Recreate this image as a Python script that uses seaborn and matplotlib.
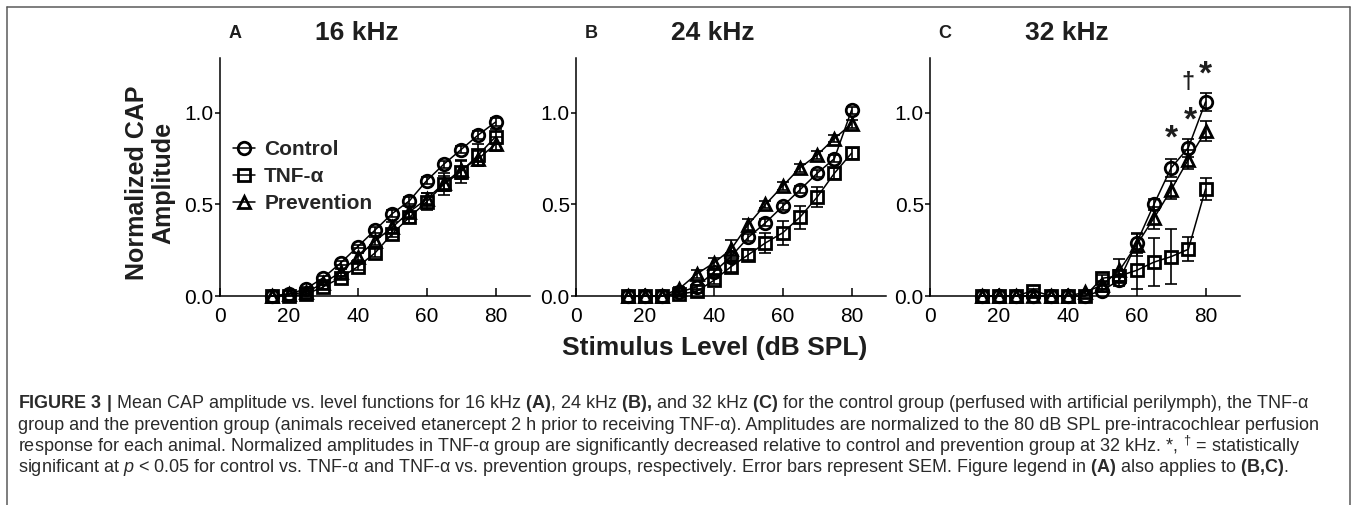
import numpy as np
import pandas as pd
import matplotlib
matplotlib.use("Agg")
import matplotlib.pyplot as plt
from matplotlib import font_manager as fm
from matplotlib.lines import Line2D
import seaborn as sns

sns.set_theme(style="white")
plt.rcParams["font.family"] = ["Liberation Sans", "DejaVu Sans"]

# -----------------------------
# Data
# -----------------------------
levels = [15, 20, 25, 30, 35, 40, 45, 50, 55, 60, 65, 70, 75, 80]
groups = ["Control", "TNF-α", "Prevention"]
freqs = ["16 kHz", "24 kHz", "32 kHz"]
letters = ["A", "B", "C"]

ctrl_16 = [0, 0.01, 0.04, 0.10, 0.18, 0.27, 0.36, 0.45, 0.52, 0.63, 0.72, 0.80, 0.88, 0.95]
tnf_16 = [0, 0.0, 0.01, 0.05, 0.10, 0.16, 0.235, 0.34, 0.43, 0.515, 0.61, 0.68, 0.77, 0.87]
prev_16 = [0, 0.01, 0.02, 0.07, 0.13, 0.215, 0.30, 0.375, 0.46, 0.53, 0.615, 0.69, 0.75, 0.83]
ctrl_16_sem = [0, 0, 0.01, 0.01, 0.01, 0.01, 0.015, 0.02, 0.02, 0.02, 0.02, 0.02, 0.02, 0.02]
tnf_16_sem = [0, 0, 0.01, 0.01, 0.01, 0.02, 0.02, 0.02, 0.03, 0.045, 0.06, 0.065, 0.06, 0.04]
prev_16_sem = [0, 0, 0.01, 0.01, 0.02, 0.02, 0.02, 0.03, 0.03, 0.03, 0.04, 0.05, 0.04, 0.04]

ctrl_24 = [0, 0, 0, 0.02, 0.05, 0.13, 0.215, 0.32, 0.40, 0.49, 0.58, 0.67, 0.75, 1.015]
tnf_24 = [0, 0, 0, 0.01, 0.025, 0.085, 0.16, 0.225, 0.29, 0.345, 0.43, 0.54, 0.67, 0.78]
prev_24 = [0, 0, 0, 0.04, 0.12, 0.18, 0.255, 0.39, 0.50, 0.60, 0.70, 0.77, 0.86, 0.94]
ctrl_24_sem = [0, 0, 0, 0.01, 0.01, 0.02, 0.02, 0.02, 0.02, 0.02, 0.02, 0.02, 0.02, 0.02]
tnf_24_sem = [0, 0, 0, 0.01, 0.01, 0.02, 0.03, 0.03, 0.055, 0.065, 0.062, 0.053, 0.03, 0.03]
prev_24_sem = [0, 0, 0, 0.01, 0.02, 0.03, 0.05, 0.03, 0.02, 0.02, 0.02, 0.02, 0.02, 0.02]

ctrl_32 = [0, 0, 0, 0, 0, 0, 0, 0.03, 0.087, 0.29, 0.50, 0.70, 0.81, 1.06]
tnf_32 = [0, 0, 0, 0.03, 0, 0, 0, 0.097, 0.11, 0.14, 0.185, 0.215, 0.255, 0.585]
prev_32 = [0, 0, 0, 0, 0, 0, 0.02, 0.06, 0.14, 0.28, 0.425, 0.58, 0.745, 0.90]
ctrl_32_sem = [0, 0, 0, 0, 0, 0, 0, 0.01, 0.03, 0.056, 0.03, 0.05, 0.05, 0.05]
tnf_32_sem = [0, 0, 0, 0.01, 0, 0, 0, 0.02, 0.03, 0.10, 0.13, 0.15, 0.065, 0.06]
prev_32_sem = [0, 0, 0, 0, 0, 0, 0.01, 0.02, 0.06, 0.06, 0.06, 0.05, 0.05, 0.055]

# significance marks in panel C: (level, height, symbol)
sig_levels = [70, 75.5, 75, 80]
sig_heights = [0.90, 1.0, 1.17, 1.25]
sig_symbols = ["*", "*", "†", "*"]

panels = [
    (ctrl_16, tnf_16, prev_16, ctrl_16_sem, tnf_16_sem, prev_16_sem),
    (ctrl_24, tnf_24, prev_24, ctrl_24_sem, tnf_24_sem, prev_24_sem),
    (ctrl_32, tnf_32, prev_32, ctrl_32_sem, tnf_32_sem, prev_32_sem),
]
markers = {"Control": "o", "TNF-α": "s", "Prevention": "^"}

# -----------------------------
# Layout (pixels)
# -----------------------------
W, H = 1357, 505
fig = plt.figure(figsize=(W / 100, H / 100), dpi=100)
ax_left = [220, 576, 930]
ax_w, ax_top, ax_bot = 310, 58, 296
ink = "#1e1e1e"

axes = []
for i, (lft, vals) in enumerate(zip(ax_left, panels)):
    ax = fig.add_axes([lft / W, (H - ax_bot) / H, ax_w / W, (ax_bot - ax_top) / H])
    axes.append(ax)
    c, t, p, ce, te, pe = vals
    df = pd.DataFrame({
        "level": levels * 3,
        "amp": c + t + p,
        "sem": ce + te + pe,
        "group": np.repeat(groups, len(levels)),
    })
    sns.lineplot(data=df, x="level", y="amp", hue="group", style="group",
                 markers=markers, dashes=False,
                 palette={g: "black" for g in groups}, hue_order=groups, style_order=groups,
                 markersize=9, markeredgewidth=2, markerfacecolor="none",
                 markeredgecolor="black", linewidth=1.1, legend=False,
                 clip_on=False, zorder=3, ax=ax)
    eb = df[df["sem"] > 0]
    ax.errorbar(eb["level"], eb["amp"], yerr=eb["sem"], fmt="none", ecolor="black",
                elinewidth=1.2, capsize=4, capthick=1.2, clip_on=False, zorder=2)

    ax.set_xlim(0, 90)
    ax.set_ylim(0, 1.3)
    ax.set_xticks([0, 20, 40, 60, 80])
    ax.set_yticks([0, 0.5, 1.0])
    ax.set_yticklabels(["0.0", "0.5", "1.0"])
    ax.set_xlabel("")
    ax.set_ylabel("")
    for s in ["top", "right"]:
        ax.spines[s].set_visible(False)
    for s in ["left", "bottom"]:
        ax.spines[s].set_color("black")
        ax.spines[s].set_linewidth(1.1)
    ax.tick_params(axis="x", direction="in", length=6, width=1.1, pad=8,
                   labelsize=15, colors="black", bottom=True)
    ax.tick_params(axis="y", direction="out", length=3.5, width=1.1, pad=1,
                   labelsize=15, colors="black", left=True)

    fig.text((lft + 137) / W, 1 - 33 / H, freqs[i], ha="center", va="center",
             fontsize=19, fontweight="bold", color=ink)
    fig.text((lft + 15) / W, 1 - 33 / H, letters[i], ha="center", va="center",
             fontsize=13, fontweight="bold", color=ink)

# significance symbols in panel C
for xv, yv, sym in zip(sig_levels, sig_heights, sig_symbols):
    size = 24 if sym == "*" else 17
    off = 0.09 if sym == "*" else 0.04
    axes[2].text(xv, yv - off, sym, ha="center", va="baseline", fontsize=size,
                 fontweight="bold", color=ink, clip_on=False)

# legend in panel A
handles = [Line2D([], [], color="black", marker=markers[g], mfc="none", mec="black",
                  ms=9, mew=2, lw=1.1) for g in groups]
axes[0].legend(handles, groups, loc="upper left", bbox_to_anchor=(233 / W, 1 - 140 / H),
               bbox_transform=fig.transFigure, frameon=False, borderpad=0,
               borderaxespad=0, labelspacing=0.38, handlelength=1.05,
               handletextpad=0.45, prop={"size": 15, "weight": "bold"})

# shared axis labels
fig.text(150 / W, 1 - 183 / H, "Normalized CAP\nAmplitude", rotation=90, ha="center",
         va="center", fontsize=18, fontweight="bold", color=ink, linespacing=1.1)
fig.text(715 / W, 1 - 348 / H, "Stimulus Level (dB SPL)", ha="center", va="center",
         fontsize=19, fontweight="bold", color=ink)

# -----------------------------
# Caption
# -----------------------------
names = {f.name for f in fm.fontManager.ttflist}
cap_font = "Liberation Sans Narrow" if "Liberation Sans Narrow" in names else "Liberation Sans"
plt.rcParams["mathtext.fontset"] = "custom"
plt.rcParams["mathtext.rm"] = cap_font
plt.rcParams["mathtext.bf"] = cap_font + ":bold"
plt.rcParams["mathtext.it"] = cap_font + ":italic"

caption = [
    r"$\mathbf{FIGURE\ 3\ |}$ Mean CAP amplitude vs. level functions for 16 kHz $\mathbf{(A)}$, "
    r"24 kHz $\mathbf{(B){,}}$ and 32 kHz $\mathbf{(C)}$ for the control group (perfused with "
    r"artificial perilymph), the TNF-α",
    "group and the prevention group (animals received etanercept 2 h prior to receiving "
    "TNF-α). Amplitudes are normalized to the 80 dB SPL pre-intracochlear perfusion",
    r"response for each animal. Normalized amplitudes in TNF-α group are significantly "
    r"decreased relative to control and prevention group at 32 kHz. *, $^{\dagger}$ = statistically",
    r"significant at $\mathit{p}$ < 0.05 for control vs. TNF-α and TNF-α vs. prevention groups, "
    r"respectively. Error bars represent SEM. Figure legend in $\mathbf{(A)}$ also applies to "
    r"$\mathbf{(B{,}C)}$.",
]
cap_y = [404, 425, 446, 467]
cap_texts = [fig.text(18 / W, 1 - y / H, s, ha="left", va="center", fontsize=12,
                      family=cap_font, color="#2a2a2a")
             for s, y in zip(caption, cap_y)]
fig.canvas.draw()
r = fig.canvas.get_renderer()
wpx = cap_texts[1].get_window_extent(r).width
scale = (1319 - 18) / wpx
for t in cap_texts:
    t.set_fontsize(12 * scale)

# frame
frame = dict(color="#5a5a5a", lw=1.1, transform=fig.transFigure)
fig.add_artist(Line2D([7 / W, 1350 / W], [1 - 6.5 / H, 1 - 6.5 / H], **frame))
fig.add_artist(Line2D([7 / W, 7 / W], [0, 1 - 6.5 / H], **frame))
fig.add_artist(Line2D([1350 / W, 1350 / W], [0, 1 - 6.5 / H], **frame))

fig.savefig("out.png", dpi=100, facecolor="white")
